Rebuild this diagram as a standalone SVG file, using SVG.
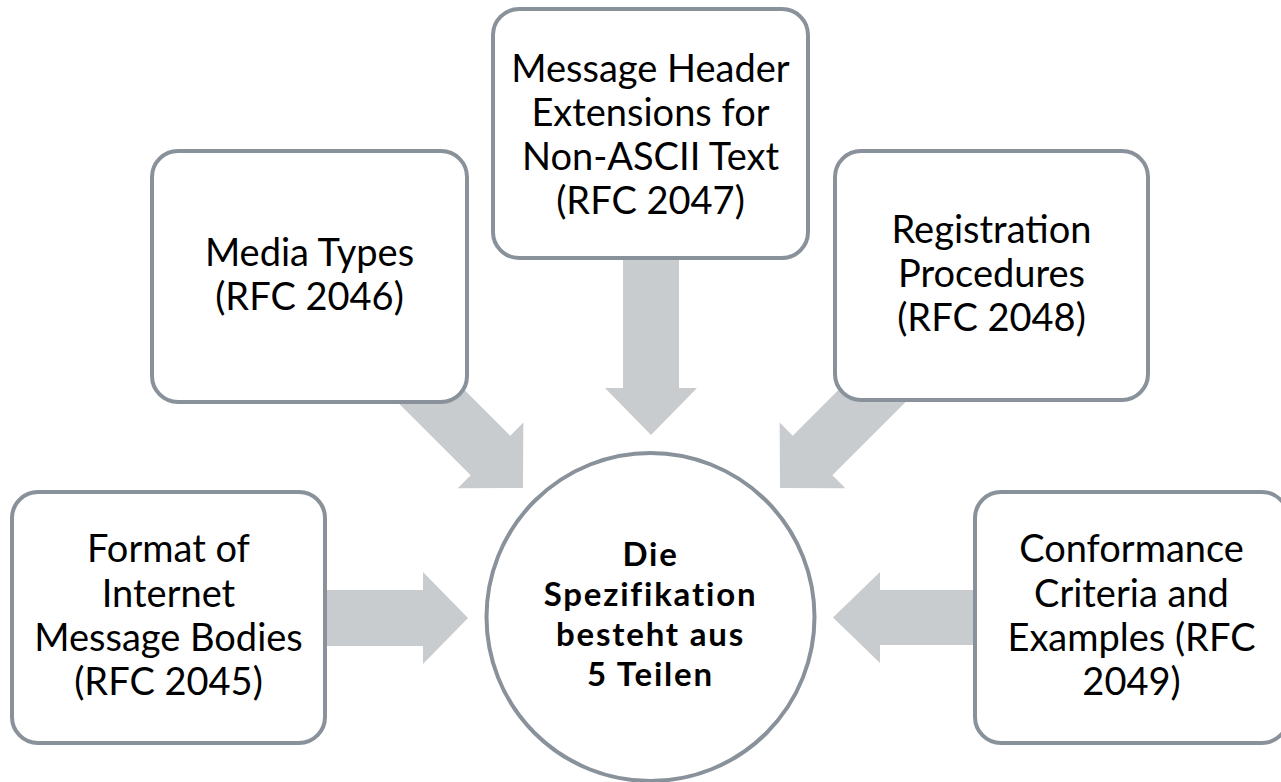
<svg xmlns="http://www.w3.org/2000/svg" width="1281" height="782" viewBox="0 0 1281 782">
<style>
.box{fill:#fff;stroke:#89929A;stroke-width:4}
.arr{fill:#C9CCCF}
.t{font-family:Lato,"Open Sans","Liberation Sans",sans-serif;font-size:38px;fill:#000;text-anchor:middle}
.c{font-family:Lato,"Open Sans","Liberation Sans",sans-serif;font-size:33px;font-weight:bold;letter-spacing:1.8px;fill:#000;text-anchor:middle}
</style>
<rect width="1281" height="782" fill="#fff"/>
<g id="connectors">
<polygon class="arr" points="300,590 423,590 423,572 468,618 423,664 423,646 300,646"/>
<polygon class="arr" points="1000,590 880,590 880,572 833,617.5 880,663 880,645 1000,645"/>
<polygon class="arr" points="623,230 679,230 679,388 697,388 651,435 605,388 623,388"/>
<g transform="translate(523,488) rotate(45)">
<polygon class="arr" points="-200,-28 -46,-28 -46,-46.5 0,0 -46,46.5 -46,28 -200,28"/>
</g>
<g transform="translate(780,488) rotate(135)">
<polygon class="arr" points="-200,-28 -46,-28 -46,-46.5 0,0 -46,46.5 -46,28 -200,28"/>
</g>
</g>
<g id="node-rfc2045">
<rect class="box" x="12" y="492" width="313" height="251" rx="26"/>
<text class="t"><tspan x="168.5" y="562">Format of</tspan><tspan x="168.5" y="607">Internet</tspan><tspan x="168.5" y="651">Message Bodies</tspan><tspan x="168.5" y="695">(RFC 2045)</tspan></text>
</g>
<g id="node-rfc2046">
<rect class="box" x="152" y="151" width="315" height="251" rx="26"/>
<text class="t"><tspan x="309.5" y="266">Media Types</tspan><tspan x="309.5" y="310">(RFC 2046)</tspan></text>
</g>
<g id="node-rfc2047">
<rect class="box" x="493" y="9" width="315" height="249" rx="26"/>
<text class="t"><tspan x="650.5" y="82">Message Header</tspan><tspan x="650.5" y="126">Extensions for</tspan><tspan x="650.5" y="170">Non-ASCII Text</tspan><tspan x="650.5" y="214">(RFC 2047)</tspan></text>
</g>
<g id="node-rfc2048">
<rect class="box" x="835" y="151" width="313" height="249" rx="26"/>
<text class="t"><tspan x="991.5" y="243">Registration</tspan><tspan x="991.5" y="287">Procedures</tspan><tspan x="991.5" y="331">(RFC 2048)</tspan></text>
</g>
<g id="node-rfc2049">
<rect class="box" x="975" y="492" width="313" height="251" rx="26"/>
<text class="t"><tspan x="1131.5" y="562">Conformance</tspan><tspan x="1131.5" y="607">Criteria and</tspan><tspan x="1131.5" y="651">Examples (RFC</tspan><tspan x="1131.5" y="695">2049)</tspan></text>
</g>
<g id="node-center">
<circle class="box" cx="650.5" cy="617" r="164"/>
<text class="c"><tspan x="650.5" y="566">Die</tspan><tspan x="650.5" y="606">Spezifikation</tspan><tspan x="650.5" y="646">besteht aus</tspan><tspan x="650.5" y="686">5 Teilen</tspan></text>
</g>
</svg>
